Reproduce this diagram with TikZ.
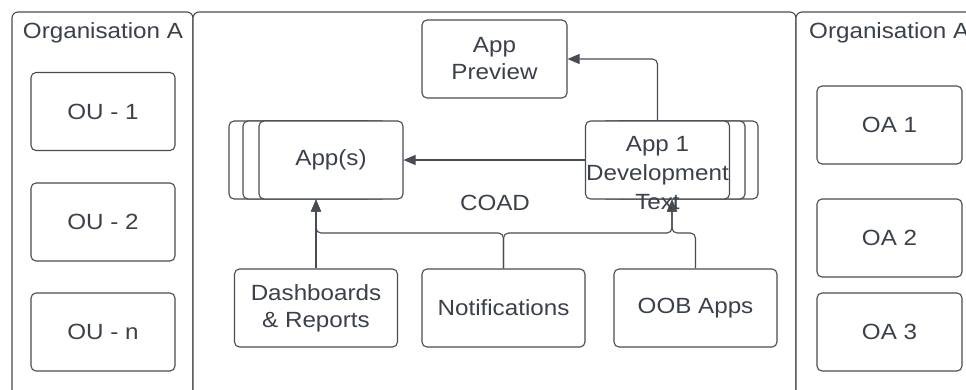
\documentclass[tikz,border=0pt]{standalone}
\usepackage{fontspec}
\setmainfont[FakeStretch=1.1]{Liberation Sans}
\usetikzlibrary{arrows.meta}
\definecolor{ln}{HTML}{474C54}
\definecolor{tx}{HTML}{3B414A}
\begin{document}
\begin{tikzpicture}[x=1pt,y=-1pt,
  cont/.style={draw=ln, line width=1.1pt, rounded corners=6pt, fill=white, inner sep=0pt},
  box/.style={draw=ln, line width=1.1pt, rounded corners=5pt, fill=white, minimum width=144pt, minimum height=78pt, inner sep=0pt, text=tx, font=\fontsize{22}{27}\selectfont, align=center},
  wbox/.style={box, minimum width=163pt},
  lbl/.style={text=tx, inner sep=0pt, font=\fontsize{22}{28}\selectfont, align=center},
  conn/.style={draw=ln, line width=1.1pt, rounded corners=5pt},
  arr/.style={conn, -{Triangle[length=12pt,width=10pt]}}]
\clip (0,0) rectangle (966,389);
\fill[white] (0,0) rectangle (966,389);
% containers
\node[cont, minimum width=181pt, minimum height=440pt] (orgL) at (102.5,232) {};
\node[cont, minimum width=603pt, minimum height=440pt] (coadc) at (494.5,232) {};
\node[cont, minimum width=320pt, minimum height=440pt] (orgR) at (956,232) {};
\node[lbl] (tL) at (103,33) {Organisation A};
\node[lbl, anchor=west] (tR) at (809,33) {Organisation A};
% left boxes
\node[box] (ou1) at (103,111.5) {OU - 1};
\node[box] (ou2) at (103,222) {OU - 2};
\node[box] (oun) at (103,332) {OU - n};
% right boxes
\node[box, minimum width=145pt] (oa1) at (889.5,125) {OA 1};
\node[box, minimum width=145pt] (oa2) at (889.5,238) {OA 2};
\node[box, minimum width=145pt] (oa3) at (889.5,332) {OA 3};
% centre
\node[box, minimum width=145pt] (prev) at (494.5,59) {App\\Preview};
\node[box] (apps3) at (301,160) {};
\node[box] (apps2) at (315,160) {};
\node[box] (apps) at (331,160) {App(s)};
\node[box] (app13) at (686,160) {};
\node[box] (app12) at (673,160) {};
\node[box] (app1) at (657.5,160) {};
\node[wbox] (dash) at (316,308) {Dashboards\\\& Reports};
\node[wbox] (notif) at (503.5,308) {Notifications};
\node[wbox] (oob) at (695.5,308) {OOB Apps};
\node[lbl] (coad) at (495,203) {COAD};
\coordinate (bus) at (0,233);
\coordinate (a1x) at (672,0);
% connectors
\draw[arr] (app1.north) |- (prev.east);
\draw[arr] (app1.west) -- (apps.east);
\draw[arr] (notif.north) -- (notif.north |- bus) -| (dash.north |- apps.south);
\draw[arr] (dash.north) -- (dash.north |- apps.south);
\draw[arr] (notif.north) -- (notif.north |- bus) -| (app1.south -| a1x);
\draw[arr] (oob.north) -- (oob.north |- bus) -| (app1.south -| a1x);
\node[lbl, font=\fontsize{22}{29}\selectfont] (app1t) at (657.5,173) {App 1\\Development\\Text};
\end{tikzpicture}
\end{document}
